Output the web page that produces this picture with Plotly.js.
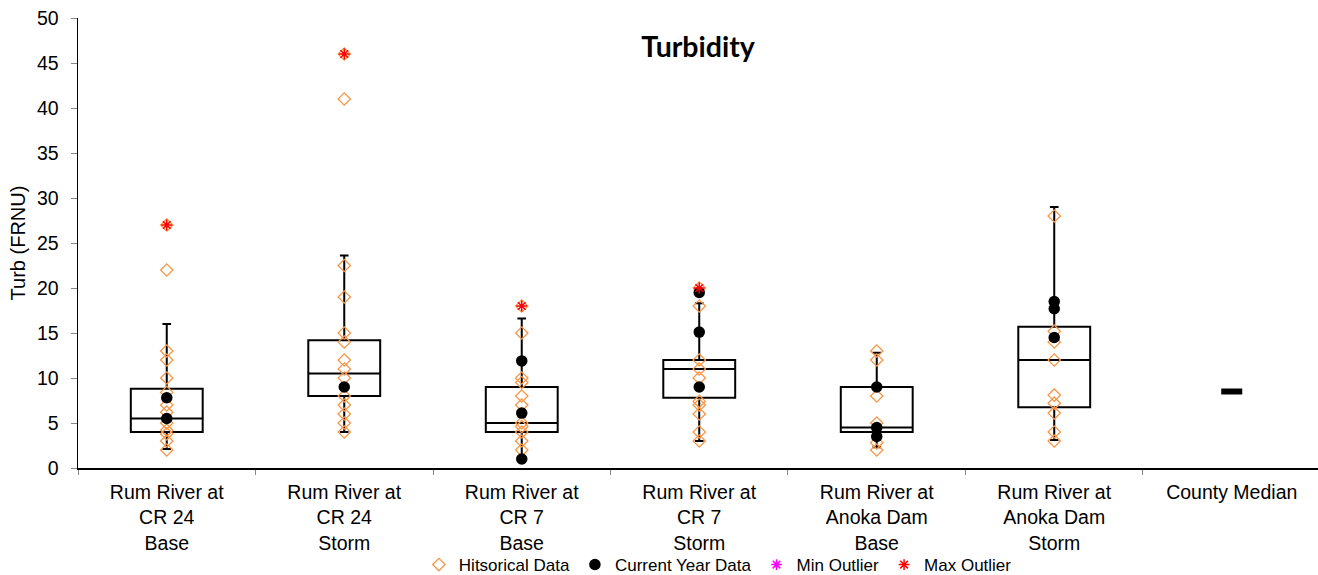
<!DOCTYPE html>
<html>
<head>
<meta charset="utf-8">
<script src="https://cdn.plot.ly/plotly-3.0.1.min.js"></script>
<style>html,body{margin:0;padding:0;background:#fff;}#chart{width:1318px;height:575px;}</style>
</head>
<body>
<div id="chart"></div>
<script>
// Categories (tick labels)
const categories = [
  "Rum River at<br>CR 24<br>Base",
  "Rum River at<br>CR 24<br>Storm",
  "Rum River at<br>CR 7<br>Base",
  "Rum River at<br>CR 7<br>Storm",
  "Rum River at<br>Anoka Dam<br>Base",
  "Rum River at<br>Anoka Dam<br>Storm",
  "County Median"
];
const siteCats = categories.slice(0, 6);

// Box statistics per site
const boxLower  = [2.1, 4.0, 1.0, 3.0, 2.3, 3.1];
const boxQ1     = [4.0, 8.0, 4.0, 7.8, 4.0, 6.75];
const boxMedian = [5.5, 10.5, 5.0, 11.0, 4.5, 12.0];
const boxQ3     = [8.8, 14.2, 9.0, 12.0, 9.0, 15.7];
const boxUpper  = [16.0, 23.6, 16.6, 18.3, 12.8, 29.0];

// Historical data per site
const histCR24Base   = [27, 22, 13, 12, 10, 8.4, 7, 6.2, 5, 4.2, 3.8, 3, 2];
const histCR24Storm  = [46, 41, 22.5, 19, 15, 14, 12, 11, 10, 8, 7, 6, 5, 4];
const histCR7Base    = [18, 15, 10, 9.5, 8, 7, 5, 4.6, 4, 3, 2];
const histCR7Storm   = [20, 18, 12, 11, 10, 7.4, 7, 6, 4, 3];
const histAnokaBase  = [13, 12, 8, 5, 2.8, 2];
const histAnokaStorm = [28, 15.2, 14, 12, 8.1, 7.2, 6.1, 4, 3];

// Current year data per site
const curCR24Base   = [7.8, 5.5];
const curCR24Storm  = [9];
const curCR7Base    = [11.9, 6.1, 1];
const curCR7Storm   = [19.5, 15.1, 9];
const curAnokaBase  = [9, 4.5, 3.5];
const curAnokaStorm = [18.5, 17.7, 14.5];

// Max outliers per site
const maxOutCR24Base  = [27];
const maxOutCR24Storm = [46];
const maxOutCR7Base   = [18];
const maxOutCR7Storm  = [20];

// Min outliers (none this year)
const minOutliers = [null];

// County median
const countyMedian = [8.5];

const histAll = [histCR24Base, histCR24Storm, histCR7Base, histCR7Storm, histAnokaBase, histAnokaStorm];
const curAll  = [curCR24Base, curCR24Storm, curCR7Base, curCR7Storm, curAnokaBase, curAnokaStorm];
const maxAll  = [maxOutCR24Base, maxOutCR24Storm, maxOutCR7Base, maxOutCR7Storm, [], []];

function flatten(groups) {
  const xs = [], ys = [];
  groups.forEach((g, i) => g.forEach(v => { xs.push(siteCats[i]); ys.push(v); }));
  return {x: xs, y: ys};
}
const hist = flatten(histAll);
const cur = flatten(curAll);
const mx = flatten(maxAll);

const FONT = "Liberation Sans, Arial, sans-serif";

const traces = [
  {
    type: "box",
    x: siteCats,
    q1: boxQ1, median: boxMedian, q3: boxQ3,
    lowerfence: boxLower, upperfence: boxUpper,
    boxpoints: false,
    width: 0.405,
    whiskerwidth: 0.12,
    line: {color: "#000", width: 2},
    fillcolor: "rgba(255,255,255,0)",
    showlegend: false,
    hoverinfo: "skip"
  },
  {
    type: "scatter", mode: "markers", name: "Hitsorical Data",
    x: hist.x, y: hist.y,
    marker: {symbol: "diamond-open", size: 9.5, color: "#F79646", line: {color: "#F79646", width: 1.3}}
  },
  {
    type: "scatter", mode: "markers", name: "Current Year Data",
    x: cur.x, y: cur.y,
    marker: {symbol: "circle", size: 11.5, color: "#000"}
  },
  {
    type: "scatter", mode: "markers", name: "Min Outlier",
    x: [siteCats[0]], y: minOutliers,
    marker: {symbol: "asterisk-open", size: 9, color: "#FF00FF", line: {color: "#FF00FF", width: 1.5}}
  },
  {
    type: "scatter", mode: "markers", name: "Max Outlier",
    x: mx.x, y: mx.y,
    marker: {symbol: "asterisk-open", size: 9, color: "#FF0000", line: {color: "#FF0000", width: 1.5}}
  },
  {
    type: "scatter", mode: "markers", name: "County Median",
    x: [categories[6]], y: countyMedian,
    marker: {symbol: "line-ew-open", size: 15, color: "#000", line: {color: "#000", width: 6}},
    showlegend: false
  }
];

const layout = {
  width: 1318, height: 575,
  margin: {l: 78, r: 0, t: 18, b: 107},
  paper_bgcolor: "#fff", plot_bgcolor: "#fff",
  font: {family: FONT, color: "#000"},
  title: {
    text: "<b>Turbidity</b>",
    font: {family: "Lato, sans-serif", size: 28.5, color: "#000"},
    xref: "paper", x: 0.5, xanchor: "center",
    yref: "container", y: 1 - 47/575, yanchor: "middle"
  },
  xaxis: {
    type: "category",
    categoryorder: "array", categoryarray: categories,
    range: [-0.5, 6.486],
    tickson: "boundaries",
    ticks: "outside", ticklen: 5, tickcolor: "#888", tickwidth: 1,
    ticklabelstandoff: 6,
    showline: true, linecolor: "#000", linewidth: 1.5,
    showgrid: false, zeroline: false,
    automargin: false,
    tickfont: {family: FONT, size: 19.5, color: "#000"},
    fixedrange: true
  },
  yaxis: {
    range: [0, 50],
    tickvals: [0, 5, 10, 15, 20, 25, 30, 35, 40, 45, 50],
    ticks: "outside", ticklen: 6, tickcolor: "#888", tickwidth: 1,
    ticklabelstandoff: 8,
    showline: true, linecolor: "#000", linewidth: 1.5,
    showgrid: false, zeroline: false,
    automargin: false,
    tickfont: {family: FONT, size: 19.5, color: "#000"},
    title: {text: "Turb (FRNU)", font: {family: FONT, size: 20, color: "#000"}, standoff: 6},
    fixedrange: true
  },
  showlegend: true,
  legend: {
    orientation: "h",
    xref: "paper", x: 0.516, xanchor: "center",
    yref: "container", y: 1 - 565/575, yanchor: "middle",
    font: {family: FONT, size: 17, color: "#000"},
    bgcolor: "rgba(0,0,0,0)",
    borderwidth: 0,
    itemwidth: 30,
    tracegroupgap: 0
  },
  hovermode: false
};

Plotly.newPlot("chart", traces, layout, {displayModeBar: false, staticPlot: true});
</script>
</body>
</html>
